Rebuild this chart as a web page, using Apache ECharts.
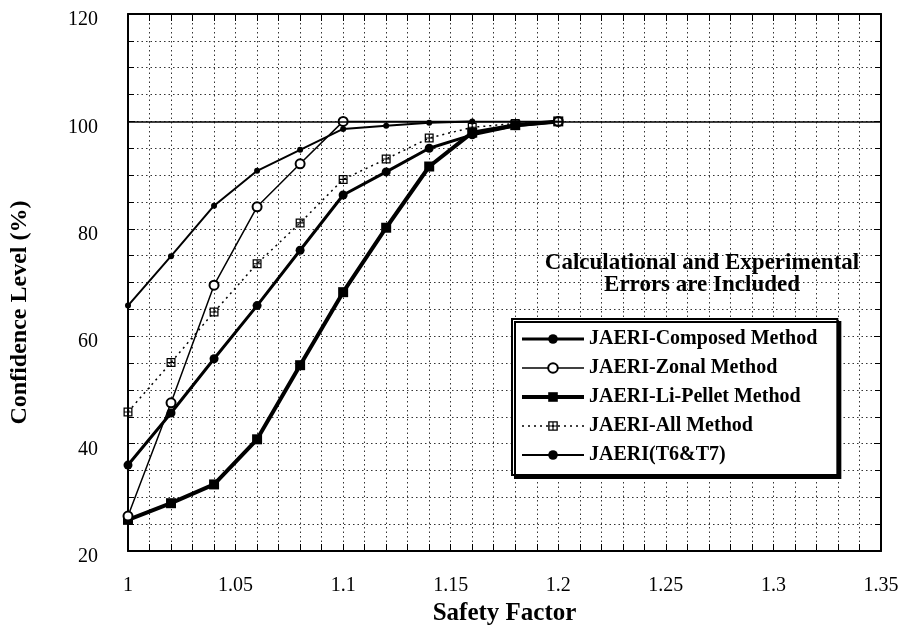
<!DOCTYPE html>
<html>
<head>
<meta charset="utf-8">
<script src="https://cdn.jsdelivr.net/npm/echarts@6/dist/echarts.min.js"></script>
<style>
  html, body { margin: 0; padding: 0; background: #fff; }
  #chart { width: 904px; height: 633px; }
</style>
</head>
<body>
<div id="chart"></div>
<script>
// Safety factor sample points shared by all methods
const safetyFactor = [1.00, 1.02, 1.04, 1.06, 1.08, 1.10, 1.12, 1.14, 1.16, 1.18, 1.20];

// Confidence level (%) for each method
const composed = [36.0, 45.7, 55.8, 65.7, 76.0, 86.3, 90.6, 95.0, 97.5, 99.2, 100];
const zonal    = [26.5, 47.6, 69.5, 84.1, 92.1, 100, null, null, null, null, 100];
const liPellet = [25.8, 28.9, 32.4, 40.8, 54.6, 68.2, 80.2, 91.6, 97.9, 99.3, 100];
const allMethod = [45.9, 55.1, 64.5, 73.5, 81.1, 89.2, 93.0, 96.9, 98.9, 99.6, 100];
const t6t7     = [65.7, 74.9, 84.3, 90.8, 94.7, 98.6, 99.2, 99.75, 100];

const seriesNames = [
  'JAERI-Composed Method',
  'JAERI-Zonal Method',
  'JAERI-Li-Pellet Method',
  'JAERI-All Method',
  'JAERI(T6&T7)'
];

const yTicks = [20, 40, 60, 80, 100, 120];
const xTicks = [1, 1.05, 1.1, 1.15, 1.2, 1.25, 1.3, 1.35];

const SERIF = "'Liberation Serif', 'Times New Roman', serif";

function pairs(values) {
  const out = [];
  values.forEach((v, i) => { out.push([safetyFactor[i], v]); });
  return out;
}

// boxed cross marker (square with a plus inside)
const boxCross = 'path://M0,0H10V10H0Z' +
  'M1.4,1.4V4.4H4.4V1.4Z' +
  'M5.6,1.4V4.4H8.6V1.4Z' +
  'M1.4,5.6V8.6H4.4V5.6Z' +
  'M5.6,5.6V8.6H8.6V5.6Z';

const dotted = { color: '#333', width: 1, type: [1.5, 3] };

// line widths per method, shared by the plotted lines and the legend keys
const lineWidths = [3, 1.5, 4, 1.5, 2];

const chart = echarts.init(document.getElementById('chart'), null, { renderer: 'canvas' });

const baseX = {
  type: 'value',
  min: xTicks[0],
  max: xTicks[xTicks.length - 1],
  interval: 0.05,
  axisLine: { show: true, onZero: false, lineStyle: { color: '#000', width: 2 } },
  axisTick: { show: true, inside: true, length: 7, lineStyle: { color: '#000', width: 1 } },
  minorTick: { show: true, splitNumber: 5, length: 7, lineStyle: { color: '#000', width: 1 } }
};
const baseY = {
  type: 'value',
  min: yTicks[0],
  max: yTicks[yTicks.length - 1],
  interval: 20,
  axisLine: { show: true, onZero: false, lineStyle: { color: '#000', width: 2 } },
  axisTick: { show: true, inside: true, length: 7, lineStyle: { color: '#000', width: 1 } },
  minorTick: { show: true, splitNumber: 4, length: 6, lineStyle: { color: '#000', width: 1 } }
};

chart.setOption({
  backgroundColor: '#fff',
  animation: false,
  grid: { left: 128, right: 23, top: 14, bottom: 82 },
  xAxis: [
    Object.assign({}, baseX, {
      position: 'bottom',
      name: 'Safety Factor',
      nameLocation: 'middle',
      nameGap: 50,
      nameTextStyle: { fontFamily: SERIF, fontWeight: 'bold', fontSize: 25, color: '#000' },
      axisLabel: {
        show: true, margin: 25, fontFamily: SERIF, fontSize: 20, color: '#000',
        formatter: v => String(+v.toFixed(2))
      },
      splitLine: { show: true, lineStyle: dotted },
      minorSplitLine: { show: true, lineStyle: dotted }
    }),
    Object.assign({}, baseX, {
      position: 'top',
      axisLabel: { show: false },
      splitLine: { show: false },
      minorSplitLine: { show: false }
    })
  ],
  yAxis: [
    Object.assign({}, baseY, {
      position: 'left',
      name: 'Confidence Level (%)',
      nameLocation: 'middle',
      nameGap: 96,
      nameRotate: 90,
      nameTextStyle: { fontFamily: SERIF, fontWeight: 'bold', fontSize: 24, color: '#000', padding: [0, 60, 0, 0] },
      axisLabel: {
        show: true, margin: 30, fontFamily: SERIF, fontSize: 20, color: '#000',
        verticalAlign: 'top', lineHeight: 12
      },
      splitLine: { show: true, lineStyle: dotted },
      minorSplitLine: { show: true, lineStyle: dotted }
    }),
    Object.assign({}, baseY, {
      position: 'right',
      axisLabel: { show: false },
      splitLine: { show: false },
      minorSplitLine: { show: false }
    })
  ],
  legend: {
    data: seriesNames.map((name, i) => ({ name: name, lineStyle: { width: lineWidths[i] } })),
    orient: 'vertical',
    left: 512,
    top: 319,
    padding: [10, 20, 10, 8],
    itemWidth: 62,
    itemHeight: 12,
    itemGap: 9,
    backgroundColor: '#fff',
    borderColor: '#000',
    borderWidth: 2,
    borderRadius: 0,
    shadowColor: '#000',
    shadowOffsetX: 3,
    shadowOffsetY: 3,
    shadowBlur: 0,
    selectedMode: false,
    lineStyle: { width: 'inherit' },
    textStyle: { fontFamily: SERIF, fontWeight: 'bold', fontSize: 20, color: '#000' }
  },
  graphic: [
    {
      type: 'text',
      x: 702,
      y: 252,
      z: 10,
      style: {
        text: 'Calculational and Experimental\nErrors are Included',
        align: 'center',
        verticalAlign: 'top',
        fontFamily: SERIF,
        fontWeight: 'bold',
        fontSize: 23,
        lineHeight: 22,
        fill: '#000'
      }
    }
  ],
  series: [
    {
      name: seriesNames[0],
      type: 'line',
      data: pairs(composed),
      symbol: 'circle',
      symbolSize: 9,
      lineStyle: { color: '#000', width: lineWidths[0] },
      itemStyle: { color: '#000' },
      z: 3,
      markLine: {
        silent: true,
        symbol: 'none',
        label: { show: false },
        lineStyle: { color: '#000', width: 1.5, type: 'solid' },
        data: [{ yAxis: 100 }]
      }
    },
    {
      name: seriesNames[1],
      type: 'line',
      data: pairs(zonal),
      connectNulls: true,
      symbol: 'emptyCircle',
      symbolSize: 9,
      lineStyle: { color: '#000', width: lineWidths[1] },
      itemStyle: { color: '#000', borderWidth: 1.5 },
      z: 4
    },
    {
      name: seriesNames[2],
      type: 'line',
      data: pairs(liPellet),
      symbol: 'rect',
      symbolSize: 10,
      lineStyle: { color: '#000', width: lineWidths[2] },
      itemStyle: { color: '#000' },
      z: 3
    },
    {
      name: seriesNames[3],
      type: 'line',
      data: pairs(allMethod),
      symbol: boxCross,
      symbolSize: 9,
      lineStyle: { color: '#000', width: lineWidths[3], type: [2, 4] },
      itemStyle: { color: '#000' },
      z: 5
    },
    {
      name: seriesNames[4],
      type: 'line',
      data: pairs(t6t7),
      symbol: 'circle',
      symbolSize: 6,
      lineStyle: { color: '#000', width: lineWidths[4] },
      itemStyle: { color: '#000' },
      z: 3
    }
  ]
});
</script>
</body>
</html>
